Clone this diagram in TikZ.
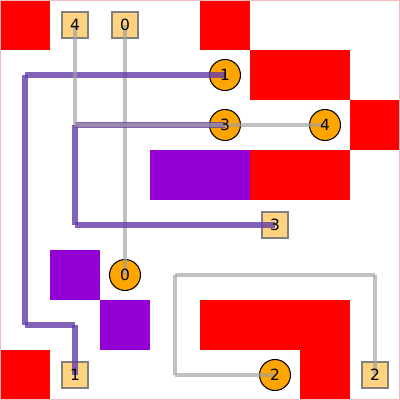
\documentclass[tikz,border=0pt]{standalone}
\usepackage{fontspec}
\setmainfont{DejaVu Sans}
\definecolor{cellred}{RGB}{255,0,0}
\definecolor{cellviolet}{RGB}{148,0,211}
\definecolor{routepurple}{RGB}{100,60,165}
\definecolor{routegray}{RGB}{160,160,160}
\definecolor{circfill}{RGB}{255,165,0}
\definecolor{sqfill}{RGB}{255,210,128}
\definecolor{framepink}{RGB}{240,190,190}
\begin{document}
\begin{tikzpicture}[
  x=1cm,y=1cm,
  redcell/.style={fill=cellred},
  violetcell/.style={fill=cellviolet},
  pin/.style={circle, draw=black, fill=circfill, minimum size=0.62cm, inner sep=0pt, line width=0.6pt},
  term/.style={rectangle, draw=black!50, fill=sqfill, minimum size=0.52cm, inner sep=0pt, line width=0.6pt},
  lbl/.style={font=\fontsize{8.8}{10}\selectfont, inner sep=0pt},
  purpleroute/.style={draw=routepurple, line width=3.6pt, opacity=0.8, line cap=square},
  grayroute/.style={draw=routegray, line width=2pt, opacity=0.65, line cap=square},
]
\useasboundingbox (0,0) rectangle (8,8);
\fill[white] (0,0) rectangle (8,8);
% grid points
\foreach \c in {0,...,7}{
  \foreach \r in {0,...,7}{
    \coordinate (g\c-\r) at (\c+0.5,7.5-\r);
  }
}
% obstacle cells
\fill[redcell] (0,7) rectangle (1,8);
\fill[redcell] (4,7) rectangle (5,8);
\fill[redcell] (5,6) rectangle (7,7);
\fill[redcell] (7,5) rectangle (8,6);
\fill[redcell] (5,4) rectangle (7,5);
\fill[redcell] (4,1) rectangle (7,2);
\fill[redcell] (0,0) rectangle (1,1);
\fill[redcell] (6,0) rectangle (7,1);
\fill[violetcell] (3,4) rectangle (5,5);
\fill[violetcell] (1,2) rectangle (2,3);
\fill[violetcell] (2,1) rectangle (3,2);
\draw[framepink, line width=0.4pt] (0.01,0.01) rectangle (7.99,7.99);
% nodes
\node[term] (s4) at (g1-0) {};
\node[term] (s0) at (g2-0) {};
\node[pin] (p1) at (g4-1) {};
\node[pin] (p3) at (g4-2) {};
\node[pin] (p4) at (g6-2) {};
\node[term] (s3) at (g5-4) {};
\node[pin] (p0) at (g2-5) {};
\node[term] (s1) at (g1-7) {};
\node[pin] (p2) at (g5-7) {};
\node[term] (s2) at (g7-7) {};
% route 0
\foreach \a/\b in {s0.center/g2-1, g2-1/g2-2, g2-2/g2-3, g2-3/g2-4, g2-4/p0.center}
  \draw[grayroute] (\a) -- (\b);
% route 1
\foreach \a/\b in {p1.center/g3-1, g3-1/g2-1, g2-1/g1-1, g1-1/g0-1, g0-1/g0-2, g0-2/g0-3, g0-3/g0-4, g0-4/g0-5, g0-5/g0-6, g0-6/g1-6, g1-6/s1.center}
  \draw[purpleroute] (\a) -- (\b);
% route 2
\foreach \a/\b in {s2.center/g7-6, g7-6/g7-5, g7-5/g6-5, g6-5/g5-5, g5-5/g4-5, g4-5/g3-5, g3-5/g3-6, g3-6/g3-7, g3-7/g4-7, g4-7/p2.center}
  \draw[grayroute] (\a) -- (\b);
% route 3
\foreach \a/\b in {p3.center/g3-2, g3-2/g2-2, g2-2/g1-2, g1-2/g1-3, g1-3/g1-4, g1-4/g2-4, g2-4/g3-4, g3-4/g4-4, g4-4/s3.center}
  \draw[purpleroute] (\a) -- (\b);
% route 4
\foreach \a/\b in {s4.center/g1-1, g1-1/g1-2, g1-2/g2-2, g2-2/g3-2, g3-2/p3.center, p3.center/g5-2, g5-2/p4.center}
  \draw[grayroute] (\a) -- (\b);
% labels
\node[lbl] at (s4.center) {4};
\node[lbl] at (s0.center) {0};
\node[lbl] at (p1.center) {1};
\node[lbl] at (p3.center) {3};
\node[lbl] at (p4.center) {4};
\node[lbl] at (s3.center) {3};
\node[lbl] at (p0.center) {0};
\node[lbl] at (s1.center) {1};
\node[lbl] at (p2.center) {2};
\node[lbl] at (s2.center) {2};
\end{tikzpicture}
\end{document}
